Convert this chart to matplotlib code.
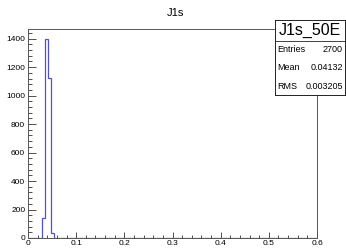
import numpy as np
import matplotlib
matplotlib.use("Agg")
import matplotlib.pyplot as plt
from matplotlib.ticker import MultipleLocator

plt.rcParams["font.family"] = ["Liberation Sans", "DejaVu Sans"]

# histogram J1s, 100 bins on [0, 0.6]
n_bins = 100
x_min, x_max = 0.0, 0.6
first_bin = 5                      # index of first non-empty bin (0.030)
counts_nonzero = [141, 1398, 1125, 36]

title = "J1s"
stat_name = "J1s_50E"
stat_labels = ["Entries", "Mean", "RMS"]
stat_values = ["2700", "0.04132", "0.003205"]

edges = np.linspace(x_min, x_max, n_bins + 1)
counts = np.zeros(n_bins)
counts[first_bin:first_bin + len(counts_nonzero)] = counts_nonzero

W, H = 346, 248
fig = plt.figure(figsize=(W / 100, H / 100), dpi=100)
ax = fig.add_axes([28 / W, (H - 238) / H, 289 / W, 209 / H])

ax.stairs(counts, edges, color="#5050d8", linewidth=0.9)
ax.set_xlim(x_min, x_max)
ax.set_ylim(0, 1.05 * max(counts))

ax.xaxis.set_major_locator(MultipleLocator(0.1))
ax.xaxis.set_minor_locator(MultipleLocator(0.02))
ax.yaxis.set_major_locator(MultipleLocator(200))
ax.yaxis.set_minor_locator(MultipleLocator(40))
ax.xaxis.set_major_formatter(plt.FuncFormatter(lambda v, p: "%g" % round(v, 3)))
ax.yaxis.set_major_formatter(plt.FuncFormatter(lambda v, p: "%d" % v))

ax.tick_params(axis="both", which="both", direction="in", labelsize=6,
               width=0.6, color="#333333", top=False, right=False)
ax.tick_params(axis="y", which="major", length=6, pad=2)
ax.tick_params(axis="y", which="minor", length=3)
ax.tick_params(axis="x", which="major", length=4.3, pad=1.5)
ax.tick_params(axis="x", which="minor", length=2.2)
for s in ax.spines.values():
    s.set_linewidth(0.7)
    s.set_color("#555555")

fig.text(175 / W, 1 - 13 / H, title, ha="center", va="center", fontsize=8)

# stats box
sb = fig.add_axes([275 / W, (H - 95) / H, 70 / W, 75 / H])
sb.set_xlim(0, 70)
sb.set_ylim(0, 75)
sb.set_xticks([])
sb.set_yticks([])
sb.set_facecolor("white")
for s in sb.spines.values():
    s.set_linewidth(0.7)
    s.set_color("#222222")
sb.axhline(75 - 20.7, color="#222222", linewidth=0.6)
sb.text(35, 75 - 10.5, stat_name, ha="center", va="center", fontsize=11.5)
for i, (lab, val) in enumerate(zip(stat_labels, stat_values)):
    y = 75 - (29.3 + 18.7 * i)
    sb.text(2, y, lab, ha="left", va="center", fontsize=6.5)
    sb.text(68, y, val, ha="right", va="center", fontsize=6.5)

fig.savefig("out.png", dpi=100)
